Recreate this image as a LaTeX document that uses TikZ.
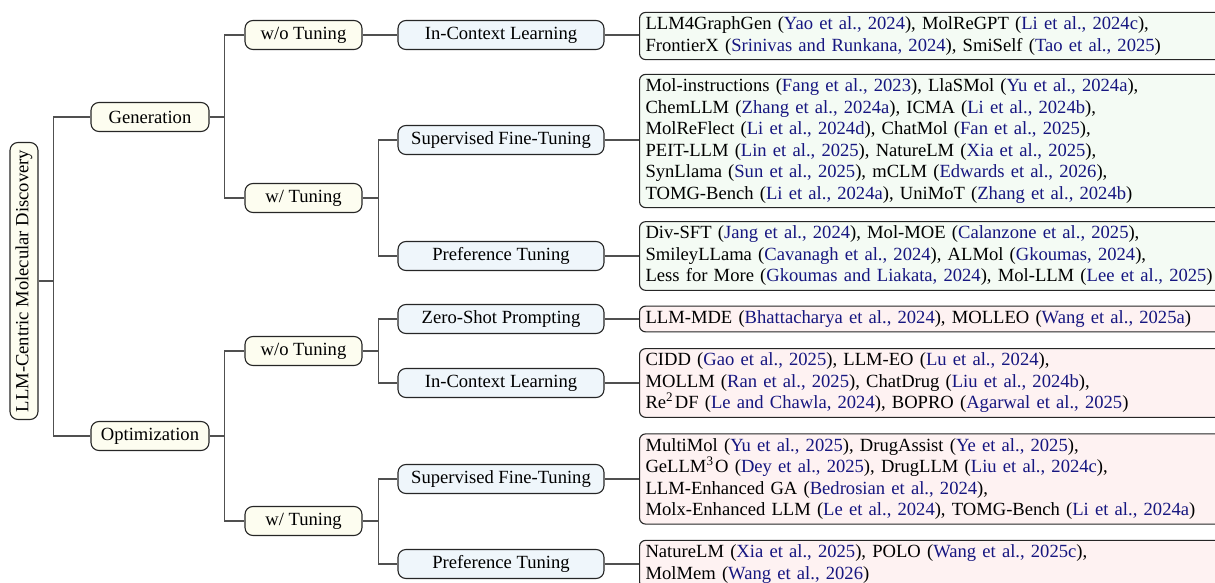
\documentclass[tikz,border=0pt]{standalone}
\usepackage{fontspec}
\setmainfont{Liberation Serif}
\usepackage{xcolor}
\definecolor{citeblue}{RGB}{22,22,128}
\definecolor{yelfill}{RGB}{253,253,240}
\definecolor{bluefill}{RGB}{239,246,251}
\definecolor{greenfill}{RGB}{244,251,244}
\definecolor{pinkfill}{RGB}{254,242,242}
\definecolor{linegray}{RGB}{80,80,80}
\newcommand\ct[1]{\textcolor{citeblue}{#1}}
\begin{document}
\begin{tikzpicture}[x=0.5pt,y=-0.5pt,
  every node/.style={font=\fontsize{9.3}{10.75}\selectfont},
  basebox/.style={draw=black!85, line width=0.55pt, rounded corners=4pt, inner sep=0pt, minimum height=14.5pt, align=center},
  rootbox/.style={basebox, fill=yelfill, rotate=90, minimum width=138.5pt, minimum height=14pt},
  lvlone/.style={basebox, fill=yelfill, minimum width=59pt},
  lvltwo/.style={basebox, fill=yelfill, minimum width=58.5pt},
  lvlthree/.style={basebox, fill=bluefill, minimum width=103pt},
  leafbox/.style={draw=black!85, line width=0.55pt, rounded corners=3pt, anchor=west, align=left, text width=289.5pt, inner xsep=3pt, inner ysep=2.2pt},
  genleaf/.style={leafbox, fill=greenfill},
  optleaf/.style={leafbox, fill=pinkfill},
  conn/.style={draw=linegray, line width=0.6pt}
]
\clip (0,0) rectangle (1215,583);
\useasboundingbox (0,0) rectangle (1215,583);

\node[rootbox] (root) at (24,281) {LLM-Centric Molecular Discovery};

\node[lvlone] (gen) at (150,117) {Generation};
\node[lvlone] (opt) at (150,436) {Optimization};

\node[lvltwo] (gwo) at (303.5,35) {w/o Tuning};
\node[lvltwo] (gw) at (303.5,198) {w/ Tuning};
\node[lvltwo] (owo) at (303.5,351) {w/o Tuning};
\node[lvltwo] (ow) at (303.5,521) {w/ Tuning};

\node[lvlthree] (gicl) at (501,35) {In-Context Learning};
\node[lvlthree] (gsft) at (501,140) {Supervised Fine-Tuning};
\node[lvlthree] (gpt) at (501,256) {Preference Tuning};
\node[lvlthree] (ozs) at (501,319) {Zero-Shot Prompting};
\node[lvlthree] (oicl) at (501,383) {In-Context Learning};
\node[lvlthree] (osft) at (501,479) {Supervised Fine-Tuning};
\node[lvlthree] (opt2) at (501,564) {Preference Tuning};

\node[genleaf] (lgicl) at (639,36) {LLM4GraphGen (\ct{Yao et al., 2024}), MolReGPT (\ct{Li et al., 2024c}),\\FrontierX (\ct{Srinivas and Runkana, 2024}), SmiSelf (\ct{Tao et al., 2025})};
\node[genleaf] (lgsft) at (639,141) {Mol-instructions (\ct{Fang et al., 2023}), LlaSMol (\ct{Yu et al., 2024a}),\\ChemLLM (\ct{Zhang et al., 2024a}), ICMA (\ct{Li et al., 2024b}),\\MolReFlect (\ct{Li et al., 2024d}), ChatMol (\ct{Fan et al., 2025}),\\PEIT-LLM (\ct{Lin et al., 2025}), NatureLM (\ct{Xia et al., 2025}),\\SynLlama (\ct{Sun et al., 2025}), mCLM (\ct{Edwards et al., 2026}),\\TOMG-Bench (\ct{Li et al., 2024a}), UniMoT (\ct{Zhang et al., 2024b})};
\node[genleaf] (lgpt) at (639,256) {Div-SFT (\ct{Jang et al., 2024}), Mol-MOE (\ct{Calanzone et al., 2025}),\\SmileyLLama (\ct{Cavanagh et al., 2024}), ALMol (\ct{Gkoumas, 2024}),\\Less for More (\ct{Gkoumas and Liakata, 2024}), Mol-LLM (\ct{Lee et al., 2025})};
\node[optleaf] (lozs) at (639,319) {LLM-MDE (\ct{Bhattacharya et al., 2024}), MOLLEO (\ct{Wang et al., 2025a})};
\node[optleaf] (loicl) at (639,383) {CIDD (\ct{Gao et al., 2025}), LLM-EO (\ct{Lu et al., 2024}),\\MOLLM (\ct{Ran et al., 2025}), ChatDrug (\ct{Liu et al., 2024b}),\\Re\textsuperscript{2}\kern0.6pt DF (\ct{Le and Chawla, 2024}), BOPRO (\ct{Agarwal et al., 2025})};
\node[optleaf] (losft) at (639,479) {MultiMol (\ct{Yu et al., 2025}), DrugAssist (\ct{Ye et al., 2025}),\\GeLLM\textsuperscript{3}\kern0.6pt O (\ct{Dey et al., 2025}), DrugLLM (\ct{Liu et al., 2024c}),\\LLM-Enhanced GA (\ct{Bedrosian et al., 2024}),\\Molx-Enhanced LLM (\ct{Le et al., 2024}), TOMG-Bench (\ct{Li et al., 2024a})};
\node[optleaf] (lopt) at (639,564) {NatureLM (\ct{Xia et al., 2025}), POLO (\ct{Wang et al., 2025c}),\\MolMem (\ct{Wang et al., 2026})};

% connectors
\draw[conn] (root.south) -- ++(15,0) coordinate (j0) |- (gen.west);
\draw[conn] (j0) |- (opt.west);

\draw[conn] (gen.east) -- ++(15,0) coordinate (j1) |- (gwo.west);
\draw[conn] (j1) |- (gw.west);
\draw[conn] (opt.east) -- ++(15,0) coordinate (j2) |- (owo.west);
\draw[conn] (j2) |- (ow.west);

\draw[conn] (gwo.east) -- (gicl.west);
\draw[conn] (gw.east) -- ++(16,0) coordinate (j3) |- (gsft.west);
\draw[conn] (j3) |- (gpt.west);
\draw[conn] (owo.east) -- ++(16,0) coordinate (j4) |- (ozs.west);
\draw[conn] (j4) |- (oicl.west);
\draw[conn] (ow.east) -- ++(16,0) coordinate (j5) |- (osft.west);
\draw[conn] (j5) |- (opt2.west);

\draw[conn] (gicl.east) -- (gicl.east -| lgicl.west);
\draw[conn] (gsft.east) -- (gsft.east -| lgsft.west);
\draw[conn] (gpt.east) -- (gpt.east -| lgpt.west);
\draw[conn] (ozs.east) -- (ozs.east -| lozs.west);
\draw[conn] (oicl.east) -- (oicl.east -| loicl.west);
\draw[conn] (osft.east) -- (osft.east -| losft.west);
\draw[conn] (opt2.east) -- (opt2.east -| lopt.west);
\end{tikzpicture}
\end{document}
